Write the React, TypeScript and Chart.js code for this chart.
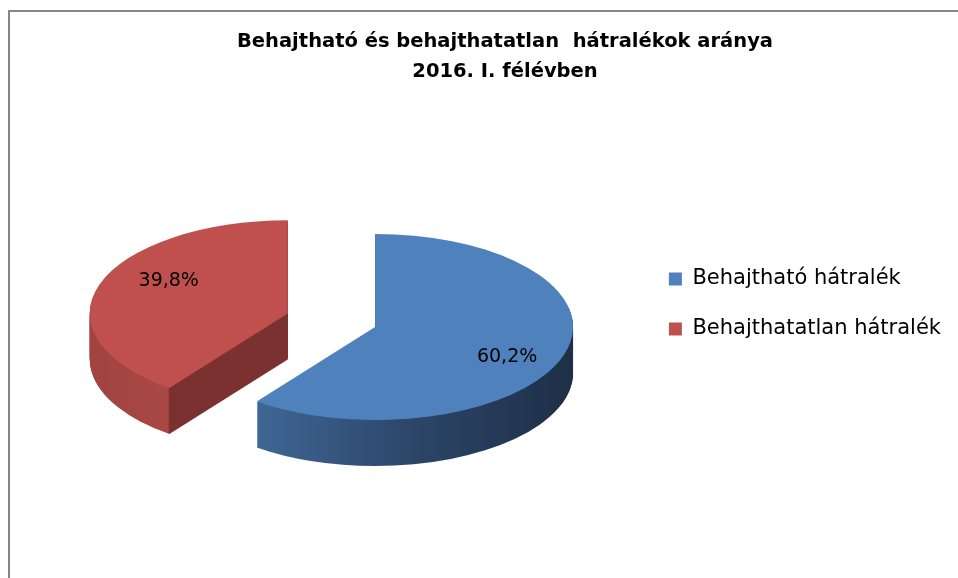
import React, { useEffect, useRef } from 'react';
import { Chart, registerables } from 'chart.js';

Chart.register(...registerables);

// ---- data ----
const TITLE_LINES = ['Behajtható és behajthatatlan  hátralékok aránya', '2016. I. félévben'];
const CATEGORIES = ['Behajtható hátralék', 'Behajthatatlan hátralék'];
const SHARES = [60.2, 39.8];

// ---- style ----
const TOP_COLORS = ['#4F81BD', '#C0504D'];
const FONT = "'DejaVu Sans', sans-serif";

function slicePath(ctx: CanvasRenderingContext2D, a: any) {
  ctx.beginPath();
  ctx.moveTo(a.x, a.y);
  ctx.arc(a.x, a.y, a.outerRadius, a.startAngle, a.endAngle);
  ctx.closePath();
}

function squash(ctx: CanvasRenderingContext2D, cy: number, k: number) {
  ctx.translate(0, cy);
  ctx.scale(1, k);
  ctx.translate(0, -cy);
}

const pie3d = {
  id: 'pie3d',
  beforeDatasetsDraw(chart: any, _args: any, opts: any) {
    const meta = chart.getDatasetMeta(0);
    const arcs = meta.data as any[];
    if (!arcs.length) return;
    const ctx: CanvasRenderingContext2D = chart.ctx;
    const k = opts.tilt;
    const depth = opts.depth;
    const cy = arcs[0].y;
    const shifts = arcs.map((a, i) => {
      const mid = (a.startAngle + a.endAngle) / 2;
      const e = opts.explode[i] || 0;
      return { dx: Math.cos(mid) * e, dy: Math.sin(mid) * e };
    });

    // side wall fills (in slice-local coordinates, before the explode shift)
    const fills = arcs.map((a, i) => {
      const cx = a.x;
      const r = a.outerRadius;
      const x0 = cx - r;
      const x1 = cx + r;
      const g = ctx.createLinearGradient(x0, 0, x1, 0);
      const s = opts.sides[i];
      if (i === 0) {
        const xs = cx + r * Math.cos(a.endAngle);
        const t = Math.max(0, Math.min(1, (xs - x0) / (x1 - x0)));
        g.addColorStop(0, s[0]);
        g.addColorStop(t, s[0]);
        g.addColorStop(t + (1 - t) * 0.5, s[1]);
        g.addColorStop(1, s[2]);
      } else {
        const xc = cx + r * Math.cos(a.startAngle);
        const t = Math.max(0.003, Math.min(1, (xc - x0) / (x1 - x0)));
        g.addColorStop(0, s[0]);
        g.addColorStop(t - 0.003, s[1]);
        g.addColorStop(t, s[2]);
        g.addColorStop(1, s[2]);
      }
      return g;
    });

    for (let d = depth; d >= 1; d--) {
      ctx.save();
      ctx.translate(0, d);
      squash(ctx, cy, k);
      arcs.forEach((a, i) => {
        ctx.save();
        ctx.translate(shifts[i].dx, shifts[i].dy);
        slicePath(ctx, a);
        ctx.fillStyle = fills[i];
        ctx.fill();
        ctx.restore();
      });
      ctx.restore();
    }

    // top faces, drawn by the arc elements themselves
    arcs.forEach((a, i) => {
      ctx.save();
      squash(ctx, cy, k);
      ctx.translate(shifts[i].dx, shifts[i].dy);
      a.draw(ctx);
      ctx.restore();
    });

    // value labels
    const values = chart.data.datasets[0].data as number[];
    ctx.save();
    ctx.fillStyle = '#000';
    ctx.font = `${opts.labelSize}px ${FONT}`;
    ctx.textAlign = 'center';
    ctx.textBaseline = 'middle';
    arcs.forEach((a, i) => {
      const ang = (a.startAngle + a.endAngle) / 2 + opts.labelTurn[i];
      const rr = a.outerRadius * opts.labelRadius[i];
      const x = a.x + shifts[i].dx + Math.cos(ang) * rr;
      const y = cy + k * (shifts[i].dy + Math.sin(ang) * rr);
      ctx.fillText(values[i].toFixed(1).replace('.', ',') + '%', x, y);
    });
    ctx.restore();
    return false;
  },
};

export default function App() {
  const ref = useRef<HTMLCanvasElement>(null);

  useEffect(() => {
    const canvas = ref.current;
    if (!canvas) return;
    const chart = new Chart(canvas, {
      type: 'pie',
      data: {
        labels: CATEGORIES,
        datasets: [
          {
            data: SHARES,
            backgroundColor: TOP_COLORS,
            borderWidth: 0,
            hoverOffset: 0,
          },
        ],
      },
      options: {
        responsive: false,
        animation: false,
        events: [],
        radius: 198,
        layout: { padding: { top: 37, bottom: 19, left: 49, right: 7 } },
        plugins: {
          title: {
            display: true,
            text: TITLE_LINES,
            color: '#000',
            font: { family: FONT, size: 19.5, weight: 'bold', lineHeight: 30 / 19.5 },
            padding: { top: -22, bottom: 0 },
          },
          legend: {
            position: 'right',
            labels: {
              color: '#000',
              font: { family: FONT, size: 21 },
              boxWidth: 13,
              boxHeight: 13,
              padding: 29,
            },
          },
          tooltip: { enabled: false },
          pie3d: {
            tilt: 0.47,
            depth: 46,
            explode: [27, 65],
            sides: [
              ['#3F6795', '#2C4568', '#1E2F47'],
              ['#A04341', '#A94845', '#7B3130'],
            ],
            labelSize: 19,
            labelRadius: [0.743, 0.696],
            labelTurn: [0.136, 0.208],
          },
        } as any,
      },
      plugins: [pie3d as any],
    });
    return () => chart.destroy();
  }, []);

  return (
    <div
      style={{
        position: 'absolute',
        left: 0,
        top: 0,
        width: 958,
        height: 578,
        overflow: 'hidden',
        background: '#fff',
      }}
    >
      <div
        style={{
          position: 'absolute',
          left: 8,
          top: 10,
          width: 1000,
          height: 700,
          borderLeft: '2px solid #868686',
          borderTop: '2px solid #868686',
        }}
      />
      <canvas
        ref={ref}
        width={948}
        height={566}
        style={{ position: 'absolute', left: 10, top: 12, width: 948, height: 566 }}
      />
    </div>
  );
}
